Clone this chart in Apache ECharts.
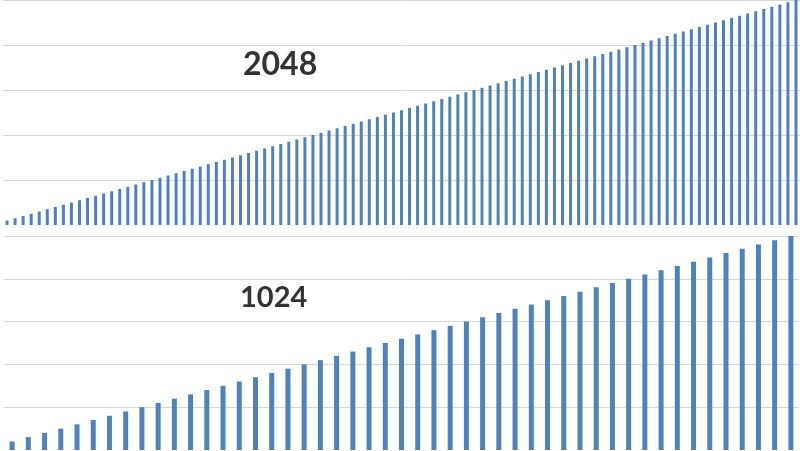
<!DOCTYPE html>
<html>
<head>
<meta charset="utf-8">
<script src="https://cdn.jsdelivr.net/npm/echarts@6/dist/echarts.min.js"></script>
<style>
html,body{margin:0;padding:0;background:#fff;}
#c{width:800px;height:451px;}
</style>
</head>
<body>
<div id="c"></div>
<script>
var topLabel = "2048";
var bottomLabel = "1024";
var topValues = [2,3,4,5,6,7,8,9,10,11,12,13,14,15,16,17,18,19,20,21,22,23,24,25,26,27,28,29,30,31,32,33,34,35,36,37,38,39,40,41,42,43,44,45,46,47,48,49,50,51,52,53,54,55,56,57,58,59,60,61,62,63,64,65,66,67,68,69,70,71,72,73,74,75,76,77,78,79,80,81,82,83,84,85,86,87,88,89,90,91,92,93,94,95,96,97,98,99,100];
var bottomValues = [2,3,4,5,6,7,8,9,10,11,12,13,14,15,16,17,18,19,20,21,22,23,24,25,26,27,28,29,30,31,32,33,34,35,36,37,38,39,40,41,42,43,44,45,46,47,48,49,50];
var topTicks = [0,20,40,60,80,100];
var bottomTicks = [0,10,20,30,40,50];

var barColor = '#4F81BD';
var gridColor = '#d9d9d9';
var chart = echarts.init(document.getElementById('c'));
chart.setOption({
  animation: false,
  grid: [
    {left: 3, top: 0, width: 799, height: 225},
    {left: 4, top: 236, width: 795, height: 214}
  ],
  xAxis: [
    {type: 'category', gridIndex: 0, axisLine: {show: false}, axisTick: {show: false}, axisLabel: {show: false}},
    {type: 'category', gridIndex: 1, axisLine: {show: false}, axisTick: {show: false}, axisLabel: {show: false}}
  ],
  yAxis: [
    {type: 'value', gridIndex: 0, min: topTicks[0], max: topTicks[topTicks.length-1], interval: topTicks[1]-topTicks[0],
     axisLine: {show: false}, axisTick: {show: false}, axisLabel: {show: false},
     splitLine: {showMinLine: false, lineStyle: {color: gridColor, width: 1}}},
    {type: 'value', gridIndex: 1, min: bottomTicks[0], max: bottomTicks[bottomTicks.length-1], interval: bottomTicks[1]-bottomTicks[0],
     axisLine: {show: false}, axisTick: {show: false}, axisLabel: {show: false},
     splitLine: {showMinLine: false, lineStyle: {color: gridColor, width: 1}}}
  ],
  series: [
    {type: 'bar', xAxisIndex: 0, yAxisIndex: 0, data: topValues, barWidth: 3, itemStyle: {color: barColor}},
    {type: 'bar', xAxisIndex: 1, yAxisIndex: 1, data: bottomValues, barWidth: 5, itemStyle: {color: barColor}}
  ],
  graphic: [
    {type: 'text', left: 243, top: 49, z: 100, style: {text: topLabel, font: 'bold 32px Lato', fill: '#333333'}},
    {type: 'text', left: 240, top: 283, z: 100, style: {text: bottomLabel, font: 'bold 29px Lato', fill: '#333333'}}
  ]
});
</script>
</body>
</html>
